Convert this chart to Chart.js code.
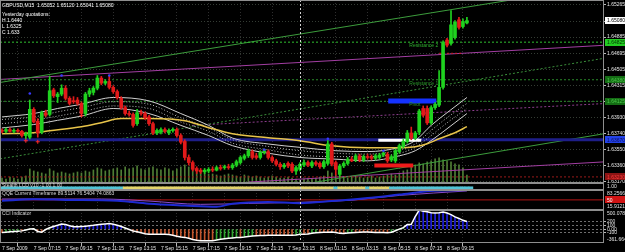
<!DOCTYPE html>
<html>
<head>
<meta charset="utf-8">
<title>GBPUSD M15</title>
<script src="https://cdn.jsdelivr.net/npm/chart.js@4/dist/chart.umd.min.js"></script>
<style>
html, body { margin:0; padding:0; background:#000; }
#wrap { position:relative; width:625px; height:252px; overflow:hidden; background:#000; }
#wrap canvas { position:absolute; left:0; display:block; }
</style>
</head>
<body>
<div id="wrap">
  <canvas id="cMain" width="625" height="183" style="top:0px"></canvas>
  <canvas id="cStealth" width="625" height="7" style="top:183px"></canvas>
  <canvas id="cQqe" width="625" height="20" style="top:190px"></canvas>
  <canvas id="cCci" width="625" height="42" style="top:210px"></canvas>
</div>
<script>
// ---------------- DATA ----------------
const barOpen  = [1.6378,1.6377,1.6379,1.6377,1.6378,1.6377,1.6372,1.6370,1.6403,1.6389,1.6376,1.6399,1.6397,1.6426,1.6418,1.6421,1.6428,1.6416,1.6413,1.6414,1.6410,1.6398,1.6421,1.6423,1.6428,1.6440,1.6434,1.6436,1.6429,1.6424,1.6416,1.6405,1.6398,1.6397,1.6386,1.6399,1.6398,1.6394,1.6386,1.6375,1.6376,1.6379,1.6375,1.6378,1.6379,1.6372,1.6365,1.6346,1.6340,1.6333,1.6331,1.6329,1.6330,1.6332,1.6331,1.6334,1.6334,1.6335,1.6334,1.6337,1.6340,1.6345,1.6348,1.6353,1.6348,1.6346,1.6352,1.6353,1.6346,1.6342,1.6338,1.6335,1.6339,1.6338,1.6330,1.6332,1.6337,1.6340,1.6336,1.6340,1.6339,1.6335,1.6339,1.6362,1.6340,1.6326,1.6336,1.6339,1.6344,1.6343,1.6348,1.6343,1.6347,1.6347,1.6345,1.6346,1.6349,1.6350,1.6343,1.6342,1.6353,1.6359,1.6365,1.6375,1.6369,1.6376,1.6404,1.6404,1.6387,1.6405,1.6408,1.6429,1.6485,1.6481,1.6488,1.6509,1.6501,1.65052];
const barHigh  = [1.6380,1.6381,1.6381,1.6380,1.6380,1.6378,1.6376,1.6414,1.6405,1.6392,1.6401,1.6402,1.6442,1.6428,1.6423,1.6432,1.6431,1.6418,1.6418,1.6417,1.6412,1.6423,1.6428,1.6430,1.6443,1.6442,1.6438,1.6443,1.6431,1.6426,1.6418,1.6407,1.6401,1.6399,1.6403,1.6402,1.6400,1.6396,1.6388,1.6380,1.6381,1.6381,1.6380,1.6381,1.6381,1.6374,1.6367,1.6349,1.6342,1.6335,1.6333,1.6333,1.6334,1.6335,1.6336,1.6337,1.6337,1.6338,1.6339,1.6343,1.6348,1.6350,1.6356,1.6355,1.6351,1.6354,1.6356,1.6355,1.6348,1.6344,1.6340,1.6339,1.6341,1.6340,1.6336,1.6340,1.6343,1.6342,1.6342,1.6342,1.6341,1.6343,1.6366,1.6364,1.6342,1.6338,1.6341,1.6346,1.6347,1.6350,1.6350,1.6349,1.6350,1.6349,1.6350,1.6351,1.6353,1.6352,1.6349,1.6356,1.6362,1.6368,1.6378,1.6382,1.6377,1.6403,1.6407,1.6407,1.6407,1.6411,1.6449,1.6484,1.6487,1.6520,1.6508,1.6512,1.6510,1.65120];
const barLow   = [1.6375,1.6375,1.6376,1.6375,1.6376,1.6370,1.6368,1.6368,1.6387,1.6370,1.6374,1.6394,1.6395,1.6417,1.6411,1.6419,1.6414,1.6408,1.6410,1.6408,1.6396,1.6395,1.6418,1.6420,1.6426,1.6432,1.6432,1.6427,1.6422,1.6415,1.6403,1.6396,1.6395,1.6382,1.6384,1.6396,1.6391,1.6384,1.6373,1.6373,1.6374,1.6375,1.6373,1.6376,1.6370,1.6362,1.6343,1.6337,1.6330,1.6327,1.6327,1.6327,1.6328,1.6329,1.6330,1.6331,1.6332,1.6332,1.6332,1.6335,1.6338,1.6343,1.6346,1.6344,1.6344,1.6344,1.6350,1.6344,1.6340,1.6336,1.6332,1.6333,1.6334,1.6328,1.6326,1.6330,1.6335,1.6335,1.6334,1.6336,1.6333,1.6333,1.6337,1.6336,1.6325,1.6323,1.6334,1.6337,1.6341,1.6341,1.6341,1.6341,1.6344,1.6343,1.6343,1.6344,1.6347,1.6340,1.6341,1.6340,1.6351,1.6357,1.6363,1.6367,1.6367,1.6373,1.6394,1.6385,1.6385,1.6403,1.6406,1.6427,1.6477,1.6479,1.6486,1.6498,1.6499,1.65041];
const barClose = [1.6377,1.6379,1.6377,1.6378,1.6377,1.6372,1.6374,1.6403,1.6388,1.6375,1.6399,1.6396,1.6425,1.6419,1.6421,1.6428,1.6416,1.6410,1.6412,1.6410,1.6398,1.6421,1.6425,1.6428,1.6440,1.6434,1.6436,1.6429,1.6424,1.6417,1.6405,1.6398,1.6397,1.6384,1.6399,1.6398,1.6393,1.6386,1.6375,1.6378,1.6379,1.6377,1.6378,1.6379,1.6372,1.6364,1.6346,1.6340,1.6332,1.6330,1.6329,1.6331,1.6332,1.6331,1.6334,1.6333,1.6335,1.6334,1.6337,1.6341,1.6346,1.6348,1.6354,1.6346,1.6346,1.6352,1.6354,1.6346,1.6342,1.6338,1.6335,1.6337,1.6336,1.6330,1.6334,1.6338,1.6340,1.6337,1.6340,1.6338,1.6335,1.6341,1.6362,1.6338,1.6332,1.6336,1.6339,1.6344,1.6342,1.6348,1.6343,1.6347,1.6346,1.6345,1.6348,1.6349,1.6351,1.6342,1.6347,1.6354,1.6360,1.6365,1.6375,1.6369,1.6375,1.6401,1.6396,1.6387,1.6405,1.6409,1.6429,1.6482,1.6479,1.6503,1.6506,1.6500,1.6507,1.65080];
const tickVolume = [100,80,120,100,80,120,140,280,240,220,200,180,280,240,200,220,200,180,200,220,200,240,220,260,300,280,240,260,280,300,260,320,280,300,340,280,260,300,320,280,260,300,280,240,280,320,360,320,280,240,220,200,180,180,160,140,160,180,160,140,120,160,140,120,140,120,100,120,140,120,100,100,120,100,80,60,80,100,80,100,120,140,240,200,160,140,120,100,120,140,120,100,120,140,100,120,140,160,180,160,200,240,260,320,360,400,380,420,440,480,500,460,440,420,380,360,300,160];
const cciValues = [-90,-80,-70,-60,-52,-45,-20,5,10,-60,-80,-10,35,70,100,135,120,90,62,65,70,77,90,100,115,125,135,145,130,100,70,30,-10,-50,-70,-95,-120,-134,-130,-132,-134,-135,-140,-160,-185,-205,-215,-240,-270,-290,-303,-305,-303,-300,-285,-265,-250,-240,-230,-220,-217,-205,-190,-178,-172,-168,-165,-162,-160,-160,-158,-159,-159,-158,-150,-134,-130,-125,-110,-95,-88,-82,-78,-75,-90,-110,-116,-100,-92,-85,-80,-76,-75,-80,-85,-88,-90,-91,-80,-40,0,40,120,125,330,500,470,457,430,420,430,445,420,380,320,280,230,200];
const stealthDir = [1,1,1,1,1,1,1,1,1,1,1,1,1,1,1,1,1,1,1,1,1,1,1,1,1,1,1,1,1,1,1,-1,-1,-1,-1,-1,-1,-1,-1,-1,-1,-1,-1,-1,-1,-1,-1,-1,-1,-1,-1,-1,-1,-1,-1,-1,-1,-1,-1,-1,-1,-1,-1,-1,-1,-1,-1,-1,-1,-1,-1,-1,-1,-1,-1,-1,-1,-1,-1,-1,-1,-1,-1,-1,1,-1,-1,-1,-1,-1,-1,-1,1,-1,-1,-1,-1,-1,1,1,1,1,1,1,1,1,1,1,1,1,1,1,1,1,1,1,1,1,1];

const timeTickIdx = [0,8,16,24,32,40,48,56,64,72,80,88,96,104,112];
const timeTickLabels = ['7 Sep 2009','7 Sep 07:15','7 Sep 09:15','7 Sep 11:15','7 Sep 13:15','7 Sep 15:15','7 Sep 17:15','7 Sep 19:15','7 Sep 21:15','7 Sep 23:15','8 Sep 01:15','8 Sep 03:15','8 Sep 05:15','8 Sep 07:15','8 Sep 09:15'];
const priceTickLabels = [1.65265,1.65075,1.64885,1.64695,1.64505,1.64315,1.64125,1.63930,1.63740,1.63550,1.63360,1.63170];
const daySeparatorIdx = [75];

// moving average (yellow) read at bar indices
const maIdx = [0,8,12,20,25,30,37,46,52,58,67,75,83,92,100,104,107,110,114,117];
const maVal = [1.63741,1.63753,1.63777,1.63825,1.63872,1.63920,1.63920,1.63896,1.63813,1.63741,1.63694,1.63658,1.63598,1.63575,1.63575,1.63587,1.63622,1.63682,1.63753,1.63825];
// envelope bands (white)
const bandIdx        = [0,8,14,20,28,37,45,52,58,67,75,84,92,100,104,108,112,117];
const bandUpper      = [1.6394,1.6398,1.6404,1.6409,1.6417,1.6413,1.6398,1.6384,1.6369,1.6362,1.6358,1.6354,1.6353,1.6358,1.6366,1.6384,1.6399,1.6417];
const bandUpperInner = [1.6391,1.6394,1.6400,1.6405,1.6412,1.6409,1.6393,1.6381,1.6367,1.6359,1.6354,1.6351,1.6350,1.6355,1.6362,1.6378,1.6393,1.6410];
const bandLowerInner = [1.6386,1.6390,1.6395,1.6400,1.6407,1.6404,1.6388,1.6377,1.6363,1.6355,1.6349,1.6347,1.6347,1.6351,1.6358,1.6372,1.6387,1.6404];
const bandLower      = [1.6381,1.6385,1.6390,1.6395,1.6404,1.6398,1.6384,1.6372,1.6360,1.6351,1.6346,1.6344,1.6342,1.6348,1.6354,1.6366,1.6380,1.6398];

// trend lines: [barIndex, price] end points
const trendUpperGreen  = [[-0.5,1.64348],[151.5,1.65502]];
const trendUpperPurple = [[-0.5,1.64384],[151.5,1.64788]];
const trendMidGreen    = [[-0.5,1.63444],[151.5,1.64634]];
const trendMidPurple   = [[48,1.63840],[151.5,1.64098]];
const trendLowerGreen  = [[77,1.63153],[151.5,1.63741]];
const trendLowerPurple = [[62,1.63169],[151.5,1.63408]];

// horizontal levels
const bidPrice = 1.65080;
const levelResistance2 = 1.64825;
const levelResistance1 = 1.64380;
const levelPivot = 1.64125;
const levelBlue = 1.63670;
const levelRed = 1.63230;
const redShortSeg = [[110,1.64693],[116,1.64693]];
const levelNames = ['Resistance 2','Resistance 1','Pivot'];
const levelNameIdx = 102.5;

// rectangles: [startIdx, endIdx, price]
const rectBlue  = [97.2,109.3,1.64128];
const rectWhite = [94.7,105.5,1.63664];
const rectRed   = [93.7,103.5,1.63366];

// fractal markers
const upFractalIdx = [7,15,27,66,82,96];
const upFractalVal = [1.64217,1.64431,1.64431,1.63551,1.63682,1.63539];
const downFractalIdx = [6,9,20];
const downFractalVal = [1.63658,1.63646,1.63955];

// QQE
const qqeFastIdx = [0,8,16,29,37,46,54,58,67,75,83,92,100,109,117];
const qqeFastVal = [47,52,50,47,37,31,27,37,43,39,46,56,68,81,83];
const qqeSlowIdx = [0,25,37,50,62,75,88,100,117];
const qqeSlowVal = [53,53,46,35,38,42,49,65,80];
const qqeLevel = 50;
const qqeMax = 83.2566, qqeMin = 15.9121;

// CCI
const cciLevels = [200,100,0,-100];
const cciLevelLabels = ['200','100','0.00','-100'];
const cciMax = 500.0785, cciMin = -361.664;

// texts
const headerTitle = 'GBPUSD,M15  1.65052 1.65120 1.65041 1.65080';
const yesterdayLines = ['Yesterday quotations:','H 1.6440','L 1.6325','C 1.633'];
const stealthTitle = 'Stealth LCD v10 -1.00 1.00';
const stealthAxisLabel = '1.00';
const qqeTitle = 'QQE Current Timeframe 89.5114 76.5404 74.0863';
const cciTitle = 'CCI Indicator';

// ---------------- STYLE / LAYOUT ----------------
const FONT = "'Liberation Sans', Arial, sans-serif";
const FS = 5;
const X_MIN = -0.5, X_MAX = 151.5;
const PRICE_MIN = 1.63158, PRICE_MAX = 1.65324;
const AXIS_W = 21;
const GRID = '#343c34';
const UP = '#1fd21f', DOWN = '#e21a1a';
Chart.defaults.font.family = FONT;
Chart.defaults.font.size = FS;
Chart.defaults.color = '#d8d8d8';

const overlayPlugin = {
  id: 'overlay',
  afterDatasetsDraw(chart, args, o) {
    const {ctx, chartArea: a, scales} = chart;
    (o.vlines || []).forEach(v => {
      const px = Math.round(scales.x.getPixelForValue(v)) + 0.5;
      ctx.save();
      ctx.strokeStyle = '#d0d0d0'; ctx.lineWidth = 1; ctx.setLineDash([2, 2]);
      ctx.beginPath(); ctx.moveTo(px, a.top); ctx.lineTo(px, a.bottom); ctx.stroke();
      ctx.restore();
    });
  },
  afterDraw(chart, args, o) {
    const {ctx, chartArea: a, scales} = chart;
    ctx.save();
    ctx.strokeStyle = '#8e8e8e'; ctx.lineWidth = 1;
    ctx.strokeRect(a.left + 0.5, a.top + 0.5, a.width - 1, a.height - 1);
    ctx.font = FS + 'px ' + FONT;
    ctx.textAlign = 'left';
    (o.texts || []).forEach(t => {
      ctx.fillStyle = t.color || '#e8e8e8'; ctx.textBaseline = 'middle';
      ctx.fillText(t.text, a.left + t.dx, a.top + t.dy);
    });
    (o.dataTexts || []).forEach(t => {
      ctx.fillStyle = t.color; ctx.textBaseline = 'top';
      ctx.fillText(t.text, scales.x.getPixelForValue(t.x), scales.y.getPixelForValue(t.y) + 1);
    });
    (o.boxes || []).forEach(b => {
      let py;
      if (b.edge === 'top') py = a.top + 3.5;
      else if (b.edge === 'bottom') py = a.bottom - 3.5;
      else py = scales.y.getPixelForValue(b.value);
      if (b.bg) { ctx.fillStyle = b.bg; ctx.fillRect(a.right + 1, Math.round(py - 3.5), AXIS_W - 1, 7); }
      ctx.fillStyle = b.fg || '#e0e0e0'; ctx.textBaseline = 'middle';
      ctx.fillText(b.text, a.right + 3, py + 0.5);
    });
    ctx.restore();
  }
};

function xAxis(showLabels) {
  return {
    type: 'linear', min: X_MIN, max: X_MAX, offset: false, display: true,
    afterBuildTicks: s => { s.ticks = timeTickIdx.map(v => ({value: v})); },
    afterFit: s => { s.paddingLeft = 0; s.paddingRight = 0; },
    ticks: showLabels
      ? {display: true, autoSkip: false, maxRotation: 0, minRotation: 0, align: 'start', padding: 0, color: '#e6e6e6',
         font: {size: FS, family: FONT}, callback: (v, i) => timeTickLabels[i]}
      : {display: false},
    grid: {display: true, color: '#2e2e2e', drawTicks: showLabels, tickLength: 3, tickColor: '#b8b8b8', tickBorderDash: []},
    border: {display: false, dash: [1, 2]}
  };
}
function rightAxis(extra) {
  return Object.assign({
    position: 'right',
    afterFit: s => { s.width = AXIS_W; s.paddingTop = 0; s.paddingBottom = 0; }
  }, extra);
}
function baseOptions(scales, overlay) {
  return {
    responsive: false, maintainAspectRatio: false, animation: false, devicePixelRatio: 1, events: [],
    layout: {padding: 0, autoPadding: false},
    plugins: {legend: {display: false}, tooltip: {enabled: false}, overlay: overlay},
    scales: scales
  };
}
const pts = (idx, vals) => idx.map((x, k) => ({x: x, y: vals[k]}));
const seg = arr => arr.map(p => ({x: p[0], y: p[1]}));
const hl = v => [{x: X_MIN, y: v}, {x: X_MAX, y: v}];
function line(data, color, width, dash, order, extra) {
  return Object.assign({type: 'line', data: data, borderColor: color, borderWidth: width, borderDash: dash || [],
    pointRadius: 0, fill: false, tension: 0, order: order, borderCapStyle: 'butt'}, extra || {});
}
const smooth = {cubicInterpolationMode: 'monotone'};
const rectLine = (r, color, w) => line([{x: r[0], y: r[2]}, {x: r[1], y: r[2]}], color, w, [], 55);

// ---------------- MAIN CHART ----------------
const bodyData = barOpen.map((o, i) => ({x: i, y: [Math.min(o, barClose[i]), Math.max(o, barClose[i])]}));
const wickData = barOpen.map((o, i) => ({x: i, y: [barLow[i], barHigh[i]]}));
const candleColors = barOpen.map((o, i) => barClose[i] >= o ? UP : DOWN);

new Chart(document.getElementById('cMain'), {
  type: 'bar',
  data: {datasets: [
    {type: 'bar', data: tickVolume.map((v, i) => ({x: i, y: v})), yAxisID: 'yv', backgroundColor: '#4f7d35',
     barThickness: 1, grouped: false, order: 100},
    line(seg(trendUpperGreen), '#3c9c3c', 1, [], 90),
    line(seg(trendUpperPurple), '#a23ea2', 1, [], 90),
    line(seg(trendMidGreen), '#3a8e3a', 1, [2, 2], 90),
    line(seg(trendMidPurple), '#8e3e8e', 1, [2, 2], 90),
    line(seg(trendLowerGreen), '#3c9c3c', 1, [], 90),
    line(seg(trendLowerPurple), '#a23ea2', 1, [], 90),
    line(hl(levelResistance2), '#30c030', 1, [2, 2], 85),
    line(hl(levelResistance1), '#2a8a2a', 1, [2, 2], 85),
    line(hl(levelPivot), '#2a8a2a', 1, [2, 2], 85),
    line(hl(levelRed), '#9a1a1a', 1, [2, 2], 85),
    line(seg(redShortSeg), '#d02020', 1, [2, 2], 85),
    line(hl(levelBlue), '#1e1e88', 3, [], 84),
    line(pts(bandIdx, bandUpper), '#cfcfcf', 1, [], 80, smooth),
    line(pts(bandIdx, bandUpperInner), '#bdbdbd', 1, [1, 2], 80, smooth),
    line(pts(bandIdx, bandLowerInner), '#bdbdbd', 1, [1, 2], 80, smooth),
    line(pts(bandIdx, bandLower), '#cfcfcf', 1, [], 80, smooth),
    line(pts(maIdx, maVal), '#e8c44a', 1.5, [], 75, smooth),
    rectLine(rectBlue, '#1432ff', 5),
    rectLine(rectWhite, '#ffffff', 3),
    rectLine(rectRed, '#ee1a1a', 4),
    {type: 'bar', data: wickData, backgroundColor: candleColors, barThickness: 1, grouped: false, order: 50},
    {type: 'bar', data: bodyData, backgroundColor: candleColors, barThickness: 3, minBarLength: 1, grouped: false, order: 49},
    {type: 'scatter', data: pts(upFractalIdx, upFractalVal), pointRadius: 1.3, pointBackgroundColor: '#3a3aff',
     pointBorderWidth: 0, showLine: false, order: 30},
    {type: 'scatter', data: pts(downFractalIdx, downFractalVal), pointStyle: 'cross', pointRadius: 2,
     pointBorderColor: '#ff2a2a', pointBorderWidth: 1, showLine: false, order: 30}
  ]},
  options: baseOptions({
    x: xAxis(false),
    y: rightAxis({
      min: PRICE_MIN, max: PRICE_MAX,
      afterBuildTicks: s => { s.ticks = priceTickLabels.map(v => ({value: v})); },
      ticks: {autoSkip: false, padding: 1, color: '#e6e6e6', font: {size: FS, family: FONT}, callback: v => v.toFixed(5)},
      grid: {color: GRID, drawTicks: true, tickLength: 2, tickColor: '#b8b8b8', tickBorderDash: []},
      border: {display: false, dash: [1, 2]}
    }),
    yv: {display: false, min: 0, max: 3640}
  }, {
    vlines: daySeparatorIdx,
    texts: [{dx: 2, dy: 6, text: headerTitle, color: '#ffffff'}]
      .concat(yesterdayLines.map((t, k) => ({dx: 2, dy: [15, 20.5, 26.5, 32.5][k], text: t, color: '#ffffff'}))),
    dataTexts: [
      {x: levelNameIdx, y: levelResistance2, text: levelNames[0], color: '#2fb02f'},
      {x: levelNameIdx, y: levelResistance1, text: levelNames[1], color: '#2a9a2a'},
      {x: levelNameIdx, y: levelPivot, text: levelNames[2], color: '#2a9a2a'}
    ],
    boxes: [
      {value: bidPrice, text: bidPrice.toFixed(5), bg: '#ffffff', fg: '#000000'},
      {value: levelResistance2, text: levelResistance2.toFixed(5), bg: '#22cc22', fg: '#003300'},
      {value: levelResistance1, text: levelResistance1.toFixed(5), bg: '#146c14', fg: '#48c848'},
      {value: levelPivot, text: levelPivot.toFixed(5), bg: '#146c14', fg: '#48c848'},
      {value: levelBlue, text: levelBlue.toFixed(5), bg: '#2242e6', fg: '#0c0c60'},
      {value: levelRed, text: levelRed.toFixed(5), bg: '#8c1414', fg: '#ff3a3a'}
    ]
  }),
  plugins: [overlayPlugin]
});

// ---------------- STEALTH PANEL ----------------
new Chart(document.getElementById('cStealth'), {
  type: 'bar',
  data: {datasets: [
    {data: stealthDir.map((d, i) => ({x: i, y: [0, 1]})), backgroundColor: stealthDir.map(d => d > 0 ? '#52c4d6' : '#e4d46c'),
     barThickness: 4, grouped: false}
  ]},
  options: baseOptions({
    x: xAxis(false),
    y: rightAxis({min: -0.7, max: 3, ticks: {display: false}, grid: {display: false}, border: {display: false}})
  }, {
    vlines: daySeparatorIdx,
    texts: [{dx: 2, dy: 2.6, text: stealthTitle, color: '#d8d8d8'}],
    boxes: [{edge: 'top', text: stealthAxisLabel, fg: '#e0e0e0'}]
  }),
  plugins: [overlayPlugin]
});

// ---------------- QQE PANEL ----------------
new Chart(document.getElementById('cQqe'), {
  type: 'line',
  data: {datasets: [
    line(hl(qqeLevel), '#b41414', 1, [], 30),
    line(pts(qqeSlowIdx, qqeSlowVal), '#8a4ac8', 1, [], 20, smooth),
    line(pts(qqeFastIdx, qqeFastVal), '#1e2ad2', 2, [], 10, smooth)
  ]},
  options: baseOptions({
    x: xAxis(false),
    y: rightAxis({min: qqeMin, max: qqeMax, ticks: {display: false}, grid: {display: false}, border: {display: false}})
  }, {
    vlines: daySeparatorIdx,
    texts: [{dx: 2, dy: 4, text: qqeTitle, color: '#d8d8d8'}],
    boxes: [
      {edge: 'top', text: qqeMax.toFixed(4), fg: '#e0e0e0'},
      {value: qqeLevel, text: String(qqeLevel), bg: '#d01414', fg: '#ffffff'},
      {edge: 'bottom', text: qqeMin.toFixed(4), fg: '#e0e0e0'}
    ]
  }),
  plugins: [overlayPlugin]
});

// ---------------- CCI PANEL ----------------
const cciColors = cciValues.map((v, i) => {
  const prev = i > 0 ? cciValues[i - 1] : v;
  if (v >= 60) return '#1e1ee0';
  if (v >= 0 || v - prev >= 8) return '#2fa62f';
  return '#c2552c';
});
new Chart(document.getElementById('cCci'), {
  type: 'bar',
  data: {datasets: [
    {type: 'bar', data: cciValues.map((v, i) => ({x: i, y: v})), backgroundColor: cciColors, barThickness: 1, grouped: false, order: 20},
    line(cciValues.map((v, i) => ({x: i, y: v})), '#ffffff', 1.5, [], 10)
  ]},
  options: baseOptions({
    x: xAxis(true),
    y: rightAxis({
      min: cciMin, max: cciMax,
      afterBuildTicks: s => { s.ticks = cciLevels.map(v => ({value: v})); },
      ticks: {autoSkip: false, padding: 1, color: '#e0e0e0', font: {size: FS, family: FONT}, callback: (v, i) => cciLevelLabels[i]},
      grid: {color: '#6e6e6e', drawTicks: true, tickLength: 2, tickColor: '#b8b8b8', tickBorderDash: []},
      border: {display: false, dash: [2, 2]}
    })
  }, {
    vlines: daySeparatorIdx,
    texts: [{dx: 2, dy: 4, text: cciTitle, color: '#d8d8d8'}],
    boxes: [
      {edge: 'top', text: cciMax.toFixed(4), fg: '#e0e0e0'},
      {edge: 'bottom', text: cciMin.toFixed(3), fg: '#e0e0e0'}
    ]
  }),
  plugins: [overlayPlugin]
});
</script>
</body>
</html>
